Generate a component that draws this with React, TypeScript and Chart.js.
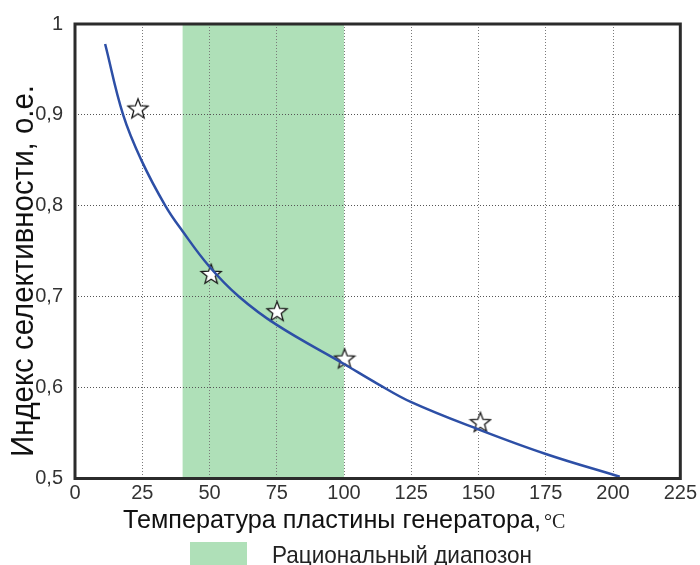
import React, { useEffect, useRef } from "react";
import { Chart, registerables } from "chart.js";

Chart.register(...registerables);

// ---- data ----
const curveX = [11.2, 17.9, 24.7, 33.6, 40, 50, 61, 75, 100, 112, 125, 150, 175, 202.5];
const curveY = [0.978, 0.9, 0.85, 0.8, 0.772, 0.733, 0.7, 0.669, 0.626, 0.605, 0.584, 0.554, 0.527, 0.502];
const starX = [23.4, 50.6, 75.1, 100.2, 150.7];
const starY = [0.907, 0.725, 0.684, 0.632, 0.562];
const bandStart = 40;
const bandEnd = 100;
const xTickValues = [0, 25, 50, 75, 100, 125, 150, 175, 200, 225];
const yTickValues = [0.5, 0.6, 0.7, 0.8, 0.9, 1];
const yTickLabels = ["0,5", "0,6", "0,7", "0,8", "0,9", "1"];
const yTitle = "Индекс селективности, о.е.";
const xTitle = "Температура пластины генератора,";
const xUnit = "°C";
const legendLabel = "Рациональный диапозон";

const GREEN = "#afe0b8";
const SANS = "'Liberation Sans', Arial, sans-serif";
const SERIF = "'Liberation Serif', 'Times New Roman', serif";

function makeStar(): HTMLCanvasElement {
  const c = document.createElement("canvas");
  c.width = 24;
  c.height = 24;
  const g = c.getContext("2d")!;
  g.beginPath();
  for (let i = 0; i < 10; i++) {
    const r = i % 2 ? 4.4 : 10.5;
    const a = -Math.PI / 2 + (i * Math.PI) / 5;
    const px = 12 + r * Math.cos(a);
    const py = 12.8 + r * Math.sin(a);
    if (i === 0) g.moveTo(px, py);
    else g.lineTo(px, py);
  }
  g.closePath();
  g.fillStyle = "#ffffff";
  g.fill();
  g.strokeStyle = "#1a1a1a";
  g.lineWidth = 1.3;
  g.stroke();
  return c;
}

function fitText(ctx: CanvasRenderingContext2D, text: string, x: number, y: number, targetW: number) {
  const w = ctx.measureText(text).width;
  ctx.save();
  ctx.translate(x, y);
  ctx.scale(targetW / w, 1);
  ctx.fillText(text, 0, 0);
  ctx.restore();
}

const decorPlugin = {
  id: "decor",
  beforeDraw(chart: any) {
    const { ctx, chartArea, scales } = chart;
    const x0 = scales.x.getPixelForValue(bandStart);
    const x1 = scales.x.getPixelForValue(bandEnd);
    ctx.save();
    ctx.fillStyle = GREEN;
    ctx.fillRect(x0, chartArea.top, x1 - x0, chartArea.bottom - chartArea.top);
    ctx.restore();
  },
  afterDraw(chart: any) {
    const { ctx, chartArea } = chart;
    ctx.save();
    // frame
    ctx.strokeStyle = "#2b2b2b";
    ctx.lineWidth = 3;
    ctx.strokeRect(chartArea.left, chartArea.top, chartArea.right - chartArea.left, chartArea.bottom - chartArea.top);

    ctx.fillStyle = "#111";
    ctx.textBaseline = "alphabetic";
    ctx.textAlign = "left";

    // y title
    ctx.save();
    ctx.translate(33, 457);
    ctx.rotate(-Math.PI / 2);
    ctx.font = `32px ${SANS}`;
    fitText(ctx, yTitle, 0, 0, 372);
    ctx.restore();

    // x title
    ctx.font = `25px ${SANS}`;
    fitText(ctx, xTitle, 123, 528, 418);
    ctx.font = `20px ${SERIF}`;
    ctx.fillStyle = "#222";
    ctx.fillText(xUnit, 544, 528);

    // legend
    ctx.fillStyle = GREEN;
    ctx.fillRect(190, 542, 57, 30);
    ctx.fillStyle = "#222";
    ctx.font = `24px ${SANS}`;
    fitText(ctx, legendLabel, 272, 563, 260);
    ctx.restore();
  },
};

export default function App() {
  const ref = useRef<HTMLCanvasElement | null>(null);
  useEffect(() => {
    document.body.style.margin = "0";
    const star = makeStar();
    const chart = new Chart(ref.current!, {
      type: "scatter",
      data: {
        datasets: [
          {
            type: "line",
            data: curveX.map((x, i) => ({ x, y: curveY[i] })),
            borderColor: "#2d4fa6",
            borderWidth: 2.5,
            pointRadius: 0,
            tension: 0.4,
            fill: false,
          } as any,
          {
            type: "scatter",
            data: starX.map((x, i) => ({ x, y: starY[i] })),
            pointStyle: star,
            pointRadius: 11,
          } as any,
        ],
      },
      options: {
        animation: false,
        responsive: false,
        layout: { padding: { top: 24, right: 17, left: 0, bottom: 0 } },
        plugins: { legend: { display: false }, tooltip: { enabled: false } },
        scales: {
          x: {
            type: "linear",
            min: 0,
            max: 225,
            afterBuildTicks: (s: any) => {
              s.ticks = xTickValues.map((v) => ({ value: v }));
            },
            afterFit: (s: any) => {
              s.height = 86.5;
            },
            ticks: { color: "#333", font: { family: SANS, size: 20 }, padding: 3, maxRotation: 0, autoSkip: false },
            grid: { color: "#7a7a7a", lineWidth: 1, drawTicks: false },
            border: { display: false, dash: [1, 2] },
          },
          y: {
            type: "linear",
            min: 0.5,
            max: 1,
            afterBuildTicks: (s: any) => {
              s.ticks = yTickValues.map((v) => ({ value: v }));
            },
            afterFit: (s: any) => {
              s.width = 75;
            },
            ticks: {
              color: "#333",
              font: { family: SANS, size: 20 },
              padding: 12,
              autoSkip: false,
              callback: (_v: any, i: number) => yTickLabels[i],
            },
            grid: { color: "#555", lineWidth: 1, drawTicks: false },
            border: { display: false, dash: [1, 2] },
          },
        },
      },
      plugins: [decorPlugin],
    });
    return () => chart.destroy();
  }, []);
  return (
    <div style={{ width: 700, height: 565 }}>
      <canvas ref={ref} width={700} height={565} />
    </div>
  );
}
